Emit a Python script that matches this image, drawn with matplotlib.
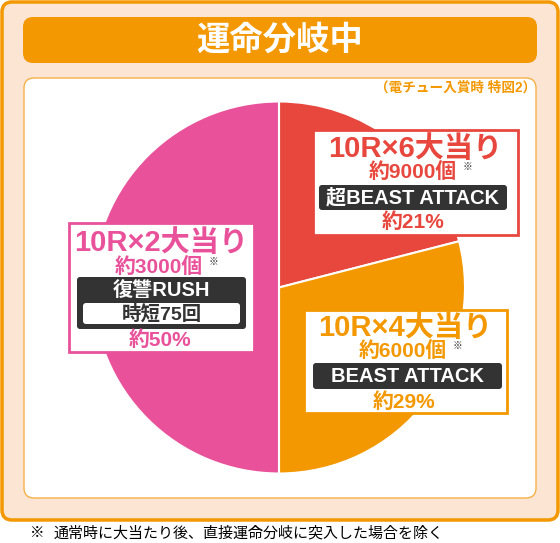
import matplotlib
matplotlib.use("Agg")
import matplotlib.pyplot as plt
from matplotlib.patches import FancyBboxPatch, Rectangle

plt.rcParams['font.family'] = ['Liberation Sans', 'Noto Sans CJK JP', 'DejaVu Sans']

# data
titles = ['10R×6大当り', '10R×4大当り', '10R×2大当り']
shares = [21, 29, 50]
counts = ['約9000個', '約6000個', '約3000個']
modes = ['超BEAST ATTACK', 'BEAST ATTACK', '復讐RUSH']
extra = ['', '', '時短75回']
colors = ['#E8473E', '#F39800', '#E9529A']
heading = '運命分岐中'
note_top = '（電チュー入賞時 特図2）'
footnote = '通常時に大当たり後、直接運命分岐に突入した場合を除く'

W, H = 560, 543
ORANGE = '#F39800'
PEACH = '#FCE5D2'
DARK = '#333333'

fig = plt.figure(figsize=(W / 100, H / 100), dpi=100)

# background layer in pixel coords
bg = fig.add_axes([0, 0, 1, 1])
bg.set_xlim(0, W)
bg.set_ylim(H, 0)
bg.axis('off')

def rbox(ax, x0, y0, x1, y1, fc, ec='none', lw=0, r=8, z=1):
    p = FancyBboxPatch((x0 + r, y0 + r), (x1 - x0) - 2 * r, (y1 - y0) - 2 * r,
                       boxstyle=f'round,pad={r}', fc=fc, ec=ec, lw=lw, zorder=z)
    ax.add_patch(p)
    return p

rbox(bg, 2, 2, 558, 520, PEACH, ORANGE, 2.5, r=10)
rbox(bg, 23, 17, 537, 63, ORANGE, r=10, z=2)
bg.text(280, 40, heading, color='white', fontsize=24, fontweight='bold',
        family='Noto Sans CJK JP', ha='center', va='center', zorder=3)
rbox(bg, 24, 78, 536, 498, 'white', '#F5B04A', 1.0, r=10, z=2)
bg.text(536, 88, note_top, color=ORANGE, fontsize=9.8, fontweight='bold',
        ha='right', va='center', zorder=3)
bg.text(30, 533, '※', color='black', fontsize=10.5, family='Noto Sans CJK JP',
        ha='left', va='center')
bg.text(54, 533, footnote, color='black', fontsize=10.8, family='Noto Sans CJK JP',
        ha='left', va='center')

# pie
cx, cy, rad = 279, 287.5, 186
pax = fig.add_axes([(cx - rad) / W, (H - cy - rad) / H, 2 * rad / W, 2 * rad / H])
pax.pie(shares, colors=colors, startangle=90, counterclock=False, radius=1,
        wedgeprops=dict(edgecolor='white', linewidth=1.5))
pax.set_xlim(-1, 1)
pax.set_ylim(-1, 1)
pax.set_aspect('equal')
pax.axis('off')

# label boxes on top
fg = fig.add_axes([0, 0, 1, 1])
fg.set_xlim(0, W)
fg.set_ylim(H, 0)
fg.axis('off')
fg.patch.set_alpha(0)

# box geometry: (x0, y0, x1, y1), title y, count y, mode box (y0, y1), pct y, mode box x
boxes = [
    ((313, 130, 518, 235), 149, 172, (185, 210), 222, (319, 507)),
    ((304, 310, 507, 413), 328, 351, (363, 389), 402, (313, 502)),
    ((69, 223, 254, 352), 243, 267, (277, 329), 340, (77, 246)),
]

for i, (rect, ty, cty, (my0, my1), py, (mx0, mx1)) in enumerate(boxes):
    x0, y0, x1, y1 = rect
    xc = (x0 + x1) / 2
    col = colors[i]
    fg.add_patch(Rectangle((x0, y0), x1 - x0, y1 - y0, fc='white', ec=col, lw=2, zorder=2))
    fg.text(xc, ty, titles[i], color=col, fontsize=21, fontweight='bold',
            ha='center', va='center', zorder=3)
    fg.text(xc - 3, cty, counts[i], color=col, fontsize=15, fontweight='bold',
            ha='center', va='center', zorder=3)
    fg.text(xc + 52, cty - 5, '※', color=DARK, fontsize=7, family='Noto Sans CJK JP',
            ha='center', va='center', zorder=3)
    rbox(fg, mx0, my0, mx1, my1, DARK, r=3, z=3)
    mcy = (my0 + my1) / 2 if not extra[i] else my0 + 14
    fg.text((mx0 + mx1) / 2, mcy, modes[i], color='white', fontsize=14.5, fontweight='bold',
            ha='center', va='center', zorder=4)
    if extra[i]:
        rbox(fg, mx0 + 6, my0 + 26, mx1 - 6, my1 - 5, 'white', r=3, z=4)
        fg.text((mx0 + mx1) / 2, my0 + 37, extra[i], color=DARK, fontsize=14,
                fontweight='bold', ha='center', va='center', zorder=5)
    fg.text(xc - 2, py, f'約{shares[i]}%', color=col, fontsize=15, fontweight='bold',
            ha='center', va='center', zorder=3)

fig.savefig('out.png', dpi=100)
